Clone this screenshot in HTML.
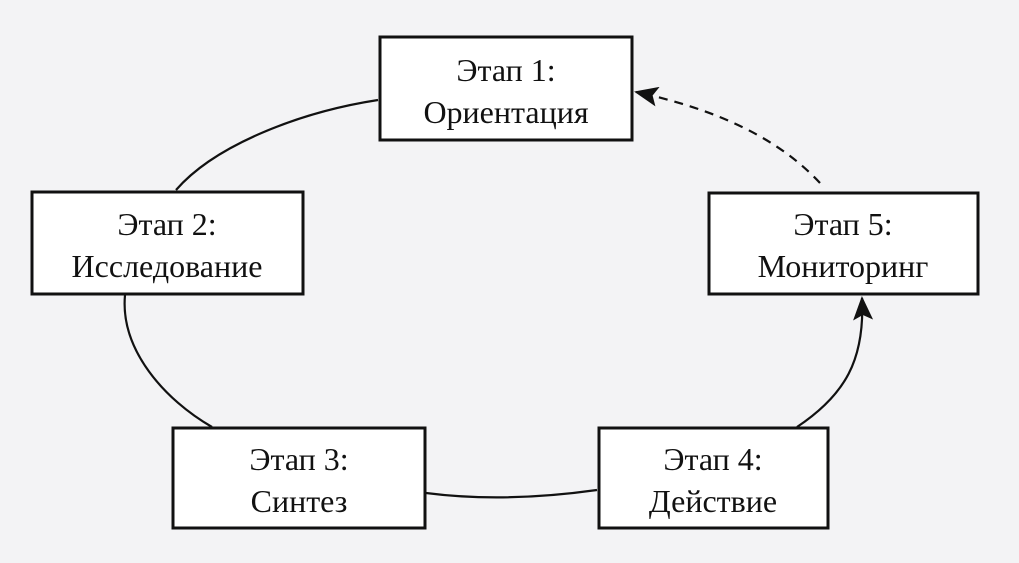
<!DOCTYPE html>
<html><head><meta charset="utf-8"><style>
html,body{margin:0;padding:0;background:#f3f3f5;}
svg{display:block}
text{font-family:"Liberation Serif","DejaVu Serif",serif;font-size:32px;fill:#111;text-anchor:middle}
</style></head><body>
<svg width="1019" height="563" viewBox="0 0 1019 563">
<defs>
<marker id="a" markerWidth="24" markerHeight="20" refX="22" refY="10" orient="auto" markerUnits="userSpaceOnUse">
<path d="M0,0 L24,10 L0,20 L5,10 Z" fill="#111"/></marker>
</defs>
<rect width="1019" height="563" fill="#f3f3f5"/>
<g fill="none" stroke="#111" stroke-width="2.2">
<path d="M378,100 C300,112 215,145 176,190"/>
<path d="M125,295 C120,350 165,400 212,427"/>
<path d="M426,493 C480,500 540,498 597,490"/>
<path d="M797,427 C845,395 865,360 862,298" marker-end="url(#a)"/>
<path d="M820,183 C780,140 720,110 636,92" stroke-dasharray="9,7" marker-end="url(#a)"/>
</g>
<g fill="#fff" stroke="#111" stroke-width="3">
<rect x="380" y="37" width="252" height="103"/>
<rect x="32" y="192" width="271" height="102"/>
<rect x="709" y="193" width="269" height="101"/>
<rect x="173" y="428" width="252" height="100"/>
<rect x="599" y="428" width="229" height="100"/>
</g>
<text x="506" y="81">Этап 1:</text><text x="506" y="123">Ориентация</text>
<text x="167" y="235">Этап 2:</text><text x="167" y="277">Исследование</text>
<text x="843" y="235">Этап 5:</text><text x="843" y="277">Мониторинг</text>
<text x="299" y="470">Этап 3:</text><text x="299" y="512">Синтез</text>
<text x="713" y="470">Этап 4:</text><text x="713" y="512">Действие</text>
</svg>
</body></html>
